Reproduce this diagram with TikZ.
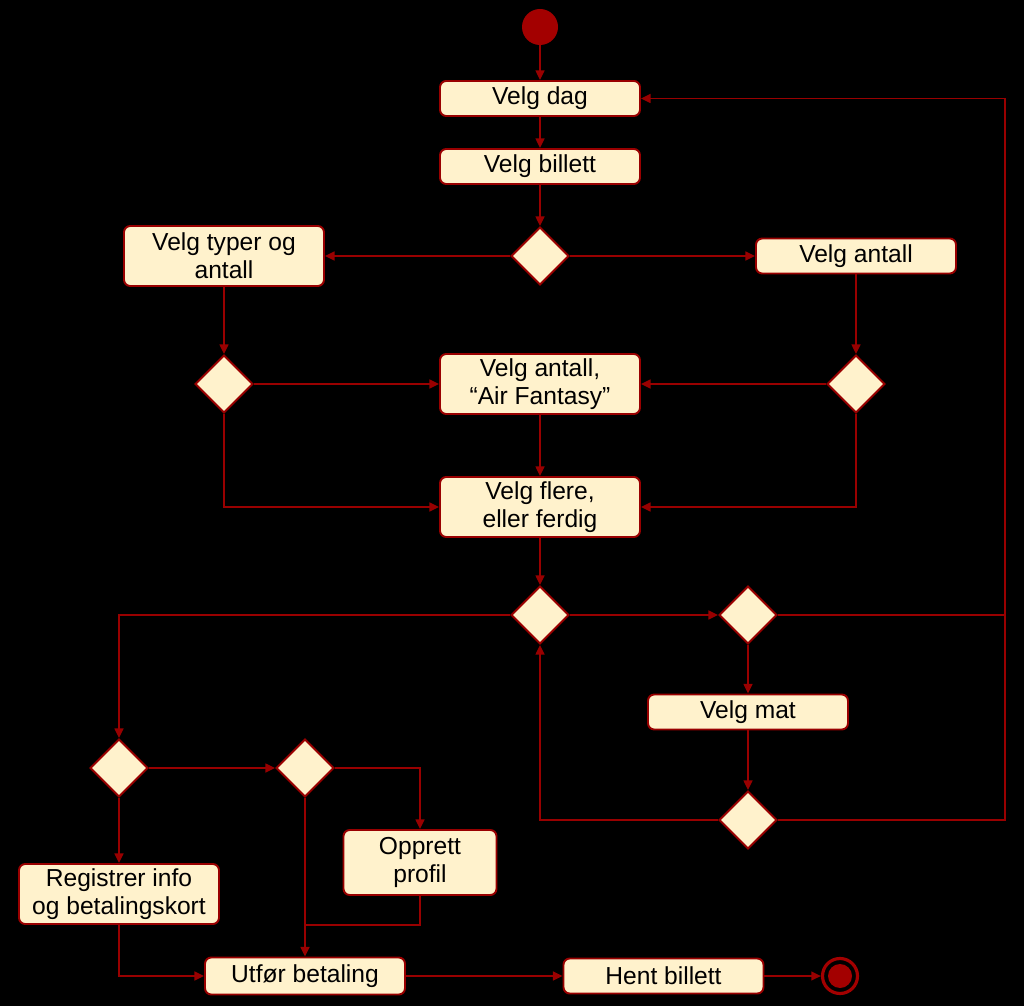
\documentclass[tikz,border=0pt]{standalone}
\usepackage{fontspec}
\setmainfont{Liberation Sans}
\usetikzlibrary{arrows.meta, positioning, shapes.geometric}
\definecolor{flowred}{HTML}{990000}
\definecolor{startred}{HTML}{A30000}
\definecolor{cream}{HTML}{FFF2CC}
\tikzset{
    act/.style={rectangle, draw=flowred, fill=cream, line width=1.1pt, rounded corners=3.5pt, minimum width=4cm, minimum height=0.7cm, align=center, inner sep=1pt, font=\fontsize{14pt}{16pt}\selectfont},
    tallact/.style={act, minimum height=1.2cm},
    choice/.style={diamond, draw=flowred, fill=cream, line width=1.1pt, minimum width=1.16cm, minimum height=1.16cm, inner sep=0pt},
    startdot/.style={circle, fill=startred, minimum size=0.72cm, inner sep=0pt},
    endring/.style={circle, draw=startred, line width=1.8pt, minimum size=0.7cm, inner sep=0pt},
    flow/.style={line width=1.1pt, draw=flowred},
    arrow/.style={flow, -{Triangle[length=5.5pt, width=5pt]}}
}
\begin{document}
\begin{tikzpicture}[x=0.02cm, y=-0.02cm]
                \fill[black] (0,0) rectangle (1024,1006);
                \useasboundingbox (0,0) rectangle (1024,1006);
                \node[startdot] (start) at (540,27) {};
                \node[act] (dag) at (540,98.5) {Velg dag};
                \node[act] (billett) at (540,166.5) {Velg billett};
                \node[choice] (d1) at (540,256) {};
                \node[tallact] (typer) at (224,256) {Velg typer og\\antall};
                \node[act] (antall) at (856,256) {Velg antall};
                \node[choice] (dl2) at (224,384) {};
                \node[tallact] (fantasy) at (540,384) {Velg antall,\\``Air Fantasy''};
                \node[choice] (dr2) at (856,384) {};
                \node[tallact] (flere) at (540,507) {Velg flere,\\eller ferdig};
                \node[choice] (d3) at (540,615) {};
                \node[choice] (d4) at (748,615) {};
                \node[act] (mat) at (748,712) {Velg mat};
                \node[choice] (d5) at (748,820) {};
                \node[choice] (d6) at (119,768) {};
                \node[choice] (d7) at (305,768) {};
                \node[tallact] (reg) at (119,894) {Registrer info\\og betalingskort};
                \node[tallact, minimum width=3.06cm, minimum height=1.3cm] (opprett) at (420,862.5) {Opprett\\profil};
                \node[act, minimum height=0.74cm] (utfor) at (305,976) {Utfør betaling};
                \node[act] (hent) at (663.5,976) {Hent billett};
                \node[endring] (end) at (840,976) {};
                \fill[startred] (end.center) circle[radius=0.24cm];
                \coordinate (loop) at (1005,615);
                \coordinate (join) at (305,925);

                \draw[arrow] (start) -- (dag);
                \draw[arrow] (dag) -- (billett);
                \draw[arrow] (billett) -- (d1);
                \draw[arrow] (d1) -- (typer);
                \draw[arrow] (d1) -- (antall);
                \draw[arrow] (typer) -- (dl2);
                \draw[arrow] (antall) -- (dr2);
                \draw[arrow] (dl2) -- (fantasy);
                \draw[arrow] (dr2) -- (fantasy);
                \draw[arrow] (dl2.south) |- (flere.west);
                \draw[arrow] (dr2.south) |- (flere.east);
                \draw[arrow] (fantasy) -- (flere);
                \draw[arrow] (flere) -- (d3);
                \draw[arrow] (d3) -- (d4);
                \draw[arrow] (d4.east) -- (loop) |- (dag.east);
                \draw[arrow] (d4) -- (mat);
                \draw[arrow] (mat) -- (d5);
                \draw[flow] (d5.east) -| (loop);
                \draw[arrow] (d5.west) -| (d3.south);
                \draw[arrow] (d3.west) -| (d6.north);
                \draw[arrow] (d6) -- (d7);
                \draw[arrow] (d6) -- (reg);
                \draw[arrow] (d7.east) -| (opprett.north);
                \draw[arrow] (d7) -- (utfor);
                \draw[flow] (opprett.south) |- (join);
                \draw[arrow] (reg.south) |- (utfor.west);
                \draw[arrow] (utfor) -- (hent);
                \draw[arrow] (hent) -- (end);
            \end{tikzpicture}
\end{document}
